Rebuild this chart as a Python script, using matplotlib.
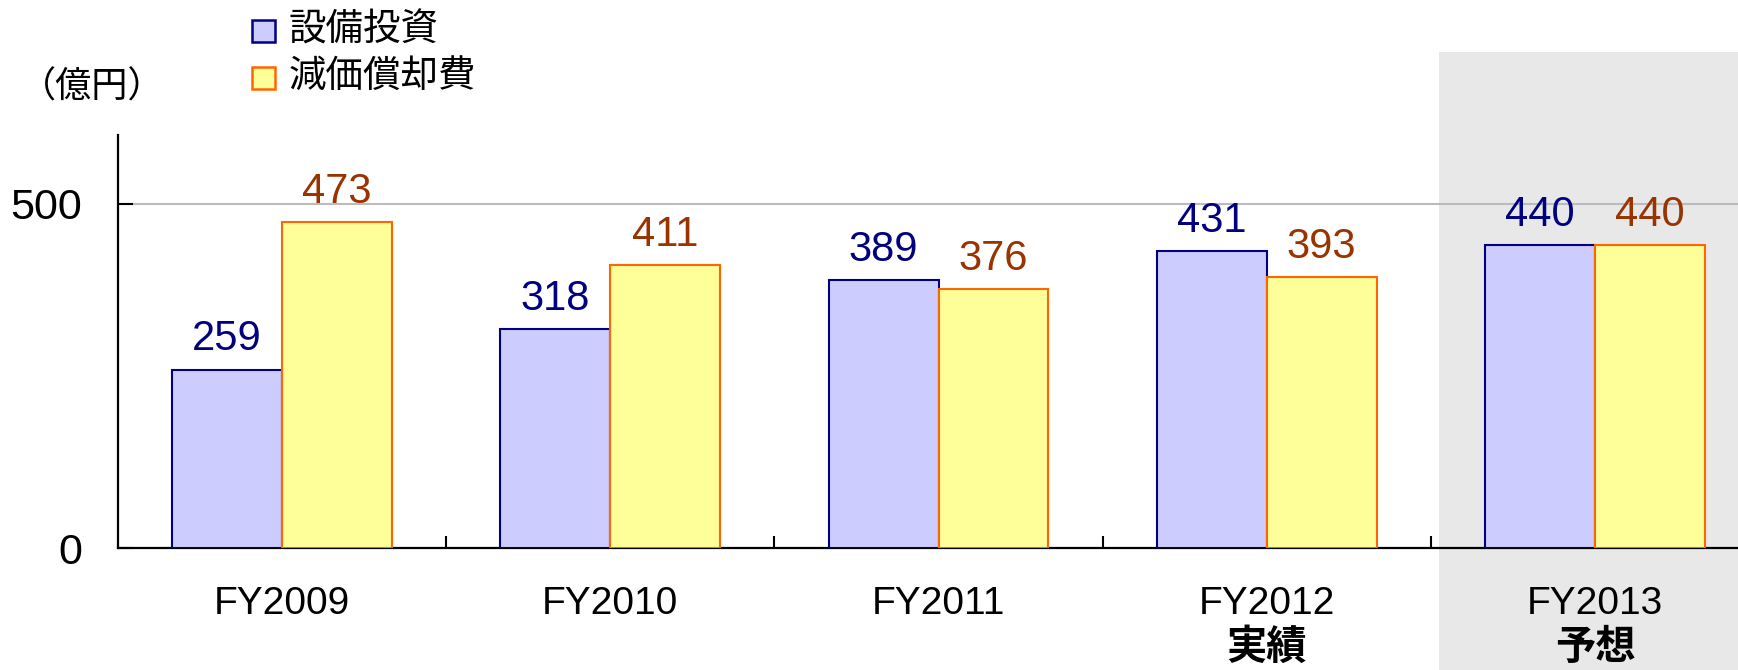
import matplotlib
matplotlib.use('Agg')
import matplotlib.pyplot as plt
from matplotlib.patches import Rectangle
import numpy as np

plt.rcParams['font.family'] = ['Liberation Sans', 'Noto Sans CJK JP']

years = ['FY2009', 'FY2010', 'FY2011', 'FY2012', 'FY2013']
sub_labels = ['', '', '', '実績', '予想']
capex = [259, 318, 389, 431, 440]
depr = [473, 411, 376, 393, 440]
series_names = ['設備投資', '減価償却費']
unit_label = '（億円）'

blue_fill, blue_edge, blue_text = '#CCCCFF', '#000080', '#000080'
yel_fill, yel_edge, yel_text = '#FFFF99', '#FF6600', '#993300'

W, H = 1738, 670
fig = plt.figure(figsize=(W / 100, H / 100), dpi=100)

# shaded forecast area
fig.patches.append(Rectangle((1439 / W, 0), (W - 1439) / W, 1 - 52 / H,
                             transform=fig.transFigure, facecolor='#E8E8E8',
                             edgecolor='none', zorder=-5))

ax = fig.add_axes([118 / W, 1 - 548 / H, (1759 - 118) / W, (548 - 135) / H])
ax.set_zorder(1)
ax.patch.set_visible(False)

x = np.arange(len(years))
bw = 0.335
ax.bar(x - bw / 2, capex, bw, color=blue_fill, edgecolor=blue_edge, linewidth=1.5, zorder=3)
ax.bar(x + bw / 2, depr, bw, color=yel_fill, edgecolor=yel_edge, linewidth=1.5, zorder=3)

for xi, v in zip(x, capex):
    ax.annotate(str(v), (xi - bw / 2, v), xytext=(0, 14), textcoords='offset points',
                ha='center', va='baseline', fontsize=30, color=blue_text)
for xi, v in zip(x, depr):
    ax.annotate(str(v), (xi + bw / 2, v), xytext=(0, 14), textcoords='offset points',
                ha='center', va='baseline', fontsize=30, color=yel_text)

ax.set_xlim(-0.5, 4.5)
ax.set_ylim(0, 600)
ax.axhline(500, color='#BBBBBB', lw=1.5, zorder=1)

ax.spines['top'].set_visible(False)
ax.spines['right'].set_visible(False)
ax.spines['left'].set_linewidth(1.6)
ax.spines['bottom'].set_linewidth(1.6)

ax.set_yticks([0, 500])
ax.set_yticklabels(['0', '500'], fontsize=31)
ax.tick_params(axis='y', direction='in', length=11, width=1.5, pad=26)
ax.set_xticks([0.5, 1.5, 2.5, 3.5])
ax.set_xticklabels([])
ax.tick_params(axis='x', direction='in', length=9, width=1.5)

for xi, yr, sub in zip(x, years, sub_labels):
    xf = fig.transFigure.inverted().transform(ax.transData.transform((xi, 0)))[0]
    fig.text(xf, 1 - 604 / H, yr, ha='center', va='center', fontsize=28)
    if sub:
        fig.text(xf, 1 - 648 / H, sub, ha='center', va='center', fontsize=29, fontweight='bold')

# legend
for (cy, fc, ec, name) in [(31, blue_fill, blue_edge, series_names[0]),
                           (78, yel_fill, yel_edge, series_names[1])]:
    fig.patches.append(Rectangle((252 / W, 1 - (cy + 11) / H), 23 / W, 22 / H,
                                 transform=fig.transFigure, facecolor=fc,
                                 edgecolor=ec, linewidth=1.8, zorder=5))
    fig.text(289 / W, 1 - cy / H, name, ha='left', va='center', fontsize=27)

fig.text(20 / W, 1 - 88 / H, unit_label, ha='left', va='center', fontsize=26)

fig.savefig('out.png', dpi=100)
